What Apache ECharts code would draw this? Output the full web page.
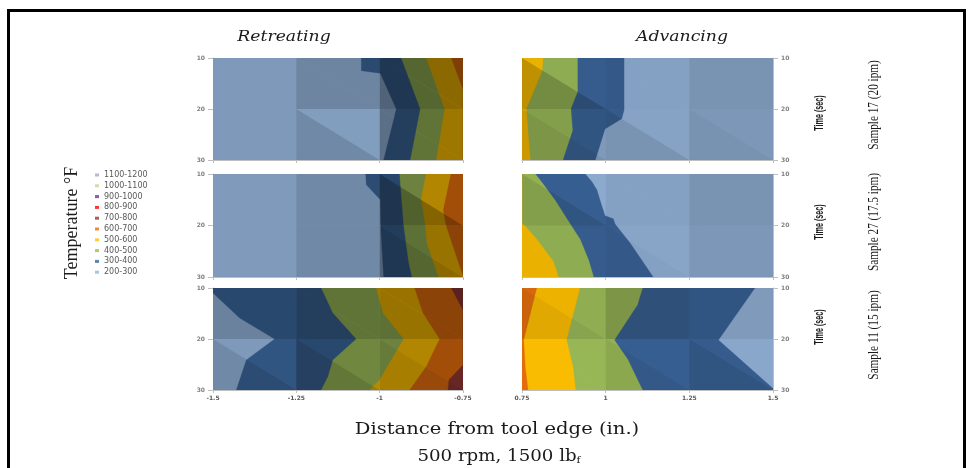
<!DOCTYPE html>
<html>
<head>
<meta charset="utf-8">
<script src="https://cdn.jsdelivr.net/npm/echarts/dist/echarts.min.js"></script>
<style>
  html, body { margin: 0; padding: 0; background: #ffffff; }
  #main { width: 972px; height: 468px; }
</style>
</head>
<body>
<div id="main"></div>
<script>
// ---------------- DATA ----------------
// Temperature bands (°F), lowest first
const bandNames  = ['200-300','300-400','400-500','500-600','600-700','700-800','800-900','900-1000','1000-1100','1100-1200'];
const bandFloors = [200, 300, 400, 500, 600, 700, 800, 900, 1000, 1100];

// Axis ticks
const retreatTicks = [-1.5, -1.25, -1, -0.75];
const advanceTicks = [0.75, 1, 1.25, 1.5];
const timeTicks    = [10, 20, 30];

// Samples (rows)
const sampleNames = ['Sample 17 (20 ipm)', 'Sample 27 (17.5 ipm)', 'Sample 11 (15 ipm)'];

// Contour boundaries: [isotherm °F, [[distance (in.), time (sec)], ...]]
const retreat17 = [
  [300, [[-1.055,10],[-1.055,12.5],[-0.998,13],[-0.95,20],[-0.988,30]]],
  [400, [[-0.935,10],[-0.878,20],[-0.908,30]]],
  [500, [[-0.86,10],[-0.805,20],[-0.83,30]]],
  [600, [[-0.785,10],[-0.75,16.2],[-0.75,30]]]
];
const advance17 = [
  [300, [[1.055,10],[1.055,20.2],[1.048,21.9],[0.998,23.9],[0.969,30]]],
  [400, [[0.916,10],[0.916,16.6],[0.896,19.9],[0.901,24.2],[0.872,30]]],
  [500, [[0.813,10],[0.810,12.6],[0.763,19.9],[0.770,26.2],[0.775,30]]]
];
const retreat27 = [
  [300, [[-1.042,10],[-1.040,12.1],[-0.998,15],[-0.996,21.2],[-0.988,30]]],
  [400, [[-0.940,10],[-0.928,19.9],[-0.913,27.1],[-0.903,30]]],
  [500, [[-0.861,10],[-0.875,14.7],[-0.863,19.9],[-0.858,23.5],[-0.823,30]]],
  [600, [[-0.786,10],[-0.809,17.0],[-0.801,19.9],[-0.764,27.1],[-0.75,29.7],[-0.75,30]]]
];
const advance27 = [
  [300, [[0.939,10],[0.959,11.5],[0.974,13.1],[0.988,16.1],[0.998,18.1],[1.023,18.7],[1.028,19.7],[1.073,23.4],[1.142,30]]],
  [400, [[0.790,10],[0.815,12.1],[0.849,15.1],[0.884,18.7],[0.924,22.7],[0.949,26.7],[0.964,30]]],
  [500, [[0.75,10],[0.75,19.4],[0.795,22.7],[0.844,27.0],[0.859,30]]]
];
const retreat11 = [
  [300, [[-1.5,10],[-1.5,11],[-1.42,15.9],[-1.315,20],[-1.4,24.1],[-1.43,30]]],
  [400, [[-1.175,10],[-1.14,14.9],[-1.07,20],[-1.14,24.1],[-1.155,27.4],[-1.175,30]]],
  [500, [[-1.01,10],[-0.99,14.9],[-0.928,20],[-1.0,28],[-1.03,30]]],
  [600, [[-0.895,10],[-0.87,14.9],[-0.82,20],[-0.86,25.4],[-0.91,30]]],
  [700, [[-0.785,10],[-0.75,14.3],[-0.75,25.1],[-0.792,28],[-0.795,30]]]
];
const advance11 = [
  [300, [[1.446,10],[1.337,20.2],[1.5,29.7],[1.5,30]]],
  [400, [[1.110,10],[1.095,13.3],[1.026,20.2],[1.066,24],[1.110,30]]],
  [500, [[0.923,10],[0.883,20.2],[0.903,25.7],[0.910,30]]],
  [600, [[0.794,10],[0.755,20.2],[0.760,25.7],[0.768,30]]]
];

// ---------------- STYLE ----------------
const bandColors = ['#94B4DA','#3A6498','#9BBB59','#FFC000','#E8700E','#953735','#FF0000','#7030A0','#C3D69B','#B3A2C7'];
// Surface lighting per grid cell triangle [upper-right, lower-left]; rows t10-20 then t20-30, cols left->right
const shadeR17 = [[0.85,0.85],[0.74,0.74],[0.55,0.55],[0.85,0.85],[0.88,0.76],[0.62,0.62]];
const shadeA17 = [[0.92,0.75],[0.90,0.90],[0.82,0.82],[0.85,0.80],[0.91,0.82],[0.84,0.81]];
const shadeR27 = [[0.86,0.86],[0.76,0.76],[0.70,0.52],[0.86,0.86],[0.76,0.76],[0.60,0.55]];
const shadeA27 = [[0.95,0.85],[0.90,0.90],[0.82,0.82],[0.92,0.92],[0.92,0.90],[0.84,0.84]];
const shadeR11 = [[0.72,0.72],[0.62,0.62],[0.60,0.60],[0.85,0.76],[0.72,0.64],[0.70,0.66]];
const shadeA11 = [[0.93,0.88],[0.80,0.80],[0.86,0.86],[0.98,0.98],[0.95,0.90],[0.93,0.85]];

const panels = [
  { bounds: retreat17, shade: shadeR17, hotRight: true,  ticks: retreatTicks, left: 213, top: 58,  w: 250, h: 102, yPos: 'left',  xLabels: false },
  { bounds: advance17, shade: shadeA17, hotRight: false, ticks: advanceTicks, left: 522, top: 58,  w: 251, h: 102, yPos: 'right', xLabels: false },
  { bounds: retreat27, shade: shadeR27, hotRight: true,  ticks: retreatTicks, left: 213, top: 174, w: 250, h: 103, yPos: 'left',  xLabels: false },
  { bounds: advance27, shade: shadeA27, hotRight: false, ticks: advanceTicks, left: 522, top: 174, w: 251, h: 103, yPos: 'right', xLabels: false },
  { bounds: retreat11, shade: shadeR11, hotRight: true,  ticks: retreatTicks, left: 213, top: 288, w: 250, h: 102, yPos: 'left',  xLabels: true },
  { bounds: advance11, shade: shadeA11, hotRight: false, ticks: advanceTicks, left: 522, top: 288, w: 251, h: 102, yPos: 'right', xLabels: true }
];

function colorOf(level) { return bandColors[bandFloors.indexOf(level)]; }

const grids = [], xAxes = [], yAxes = [], series = [];
const axisGrey = '#BFBFBF';

panels.forEach(function (p, gi) {
  const xmin = p.ticks[0], xmax = p.ticks[p.ticks.length - 1];
  const tmin = timeTicks[0], tmax = timeTicks[timeTicks.length - 1];
  const step = p.ticks[1] - p.ticks[0];
  const tStep = timeTicks[1] - timeTicks[0];
  grids.push({ left: p.left, top: p.top, width: p.w, height: p.h, containLabel: false });
  xAxes.push({
    type: 'value', gridIndex: gi, min: xmin, max: xmax, interval: step,
    axisLine: { show: true, lineStyle: { color: axisGrey, width: 1 } },
    axisTick: { show: true, length: 3, lineStyle: { color: axisGrey } },
    axisLabel: { show: p.xLabels, fontSize: 6, color: '#595959', fontWeight: 'bold', margin: 5, fontFamily: 'DejaVu Sans' },
    splitLine: { show: false }
  });
  yAxes.push({
    type: 'value', gridIndex: gi, min: tmin, max: tmax, interval: tStep, inverse: true, position: p.yPos,
    axisLine: { show: true, lineStyle: { color: axisGrey, width: 1 } },
    axisTick: { show: true, length: 5, lineStyle: { color: axisGrey } },
    axisLabel: { fontSize: 6, color: '#7F7F7F', fontWeight: 'bold', margin: 8, fontFamily: 'DejaVu Sans' },
    splitLine: { show: false }
  });

  // contour bands
  const bandItems = [{ value: [xmin, tmin] }].concat(p.bounds.map(function (b) { return { value: [b[1][0][0], tmin] }; }));
  series.push({
    type: 'custom', name: 'bands' + gi, xAxisIndex: gi, yAxisIndex: gi, silent: true, clip: true,
    data: bandItems,
    renderItem: function (params, api) {
      const k = params.dataIndex - 1;
      let pts, fill;
      if (k < 0) {
        pts = [[xmin, tmin], [xmax, tmin], [xmax, tmax], [xmin, tmax]];
        fill = colorOf(bandFloors[0]);
      } else {
        const b = p.bounds[k];
        const edge = p.hotRight ? xmax : xmin;
        pts = b[1].concat([[edge, tmax], [edge, tmin]]);
        fill = colorOf(b[0]);
      }
      return { type: 'polygon', shape: { points: pts.map(function (q) { return api.coord(q); }) }, style: { fill: fill, stroke: fill, lineWidth: 0.3 } };
    }
  });

  // surface lighting of the grid cells
  const nCols = p.ticks.length - 1, nRows = timeTicks.length - 1;
  const shadeItems = [];
  for (let r = 0; r < nRows; r++) for (let c = 0; c < nCols; c++) for (let tri = 0; tri < 2; tri++) {
    shadeItems.push({ value: [xmin + c * step, tmin + r * tStep], c: c, r: r, tri: tri });
  }
  series.push({
    type: 'custom', name: 'shade' + gi, xAxisIndex: gi, yAxisIndex: gi, silent: true, clip: true,
    data: shadeItems,
    renderItem: function (params, api) {
      const it = shadeItems[params.dataIndex];
      const f = p.shade[it.r * nCols + it.c][it.tri];
      const x0 = xmin + it.c * step, x1 = x0 + step;
      const t0 = tmin + it.r * tStep, t1 = t0 + tStep;
      const pts = it.tri === 0 ? [[x0, t0], [x1, t0], [x1, t1]] : [[x0, t0], [x0, t1], [x1, t1]];
      const fill = f < 1 ? 'rgba(0,0,0,' + (1 - f).toFixed(3) + ')' : 'rgba(255,255,255,' + (f - 1).toFixed(3) + ')';
      return { type: 'polygon', shape: { points: pts.map(function (q) { return api.coord(q); }) }, style: { fill: fill } };
    }
  });
});

// legend-only series
const legendOrder = bandNames.slice().reverse();
bandNames.forEach(function (n, i) {
  series.push({ type: 'scatter', name: n, xAxisIndex: 0, yAxisIndex: 0, data: [], itemStyle: { color: bandColors[i] } });
});

const serif = '"DejaVu Serif", serif';
const graphics = [
  // frame
  { type: 'rect', shape: { x: 7, y: 9, width: 959, height: 3 }, style: { fill: '#000' } },
  { type: 'rect', shape: { x: 7, y: 9, width: 3, height: 470 }, style: { fill: '#000' } },
  { type: 'rect', shape: { x: 963, y: 9, width: 3, height: 470 }, style: { fill: '#000' } },
  // column titles
  { type: 'text', x: 284, y: 37, scaleX: 1.15, style: { text: 'Retreating', fontFamily: serif, fontStyle: 'italic', fontSize: 15, fill: '#1a1a1a', align: 'center', verticalAlign: 'middle' } },
  { type: 'text', x: 682, y: 37, scaleX: 1.15, style: { text: 'Advancing', fontFamily: serif, fontStyle: 'italic', fontSize: 15, fill: '#1a1a1a', align: 'center', verticalAlign: 'middle' } },
  // legend title
  { type: 'text', x: 72, y: 223, rotation: Math.PI / 2, style: { text: 'Temperature °F', fontFamily: '"Liberation Serif", serif', fontSize: 18, fill: '#1a1a1a', align: 'center', verticalAlign: 'middle' } },
  // x title
  { type: 'text', x: 497, y: 430, scaleX: 1.15, style: { text: 'Distance from tool edge (in.)', fontFamily: serif, fontSize: 17, fill: '#1a1a1a', align: 'center', verticalAlign: 'middle' } },
  { type: 'text', x: 499, y: 457, scaleX: 1.07, style: { text: '500 rpm, 1500 lb{s|f}', fontFamily: serif, fontSize: 17, fill: '#1a1a1a', align: 'center', verticalAlign: 'middle',
      rich: { s: { fontFamily: serif, fontSize: 10, fill: '#1a1a1a', padding: [7, 0, 0, 0] } } } }
];
const timeY = [113, 222, 327];
const sampleY = [105, 222, 335];
timeY.forEach(function (y) {
  graphics.push({ type: 'text', x: 820, y: y, rotation: Math.PI / 2, scaleX: 0.6, style: { text: 'Time (sec)', fontFamily: '"Liberation Sans", sans-serif', fontWeight: 'bold', fontSize: 12, fill: '#1a1a1a', align: 'center', verticalAlign: 'middle' } });
});
sampleNames.forEach(function (s, i) {
  graphics.push({ type: 'text', x: 874, y: sampleY[i], rotation: Math.PI / 2, scaleX: 0.75, style: { text: s, fontFamily: '"Liberation Serif", serif', fontSize: 15, fill: '#1a1a1a', align: 'center', verticalAlign: 'middle' } });
});

const chart = echarts.init(document.getElementById('main'), null, { renderer: 'canvas' });
chart.setOption({
  animation: false,
  backgroundColor: '#ffffff',
  grid: grids,
  xAxis: xAxes,
  yAxis: yAxes,
  legend: {
    data: legendOrder, orient: 'vertical', left: 95, top: 171, padding: 0, icon: 'rect',
    itemWidth: 4, itemHeight: 3, itemGap: 2.8, selectedMode: false,
    textStyle: { fontSize: 8, color: '#595959', lineHeight: 8, fontFamily: 'DejaVu Sans' }
  },
  graphic: graphics,
  series: series
});
</script>
</body>
</html>
